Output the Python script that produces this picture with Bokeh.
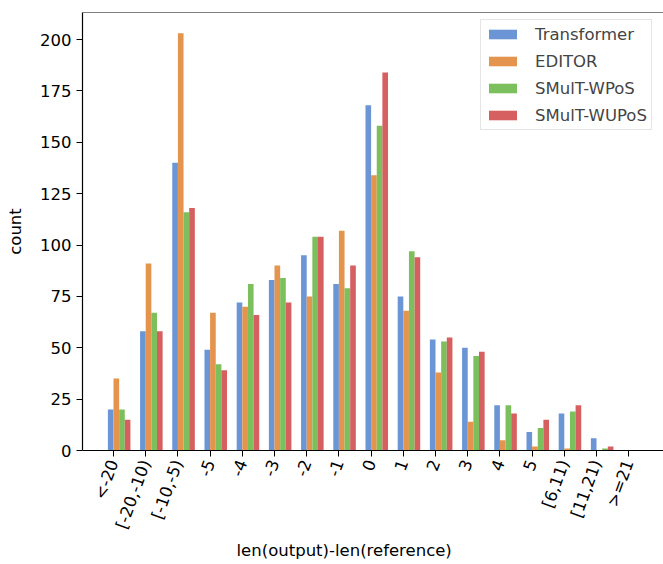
import math
import numpy as np
from bokeh.plotting import figure
from bokeh.models import ColumnDataSource, FixedTicker, Span, Legend, LegendItem, Title
from bokeh.embed import file_html
from bokeh.resources import INLINE

categories = ["<-20", "[-20,-10)", "[-10,-5)", "-5", "-4", "-3", "-2", "-1", "0",
              "1", "2", "3", "4", "5", "[6,11)", "[11,21)", ">=21"]
transformer = [20, 58, 140, 49, 72, 83, 95, 81, 168, 75, 54, 50, 22, 9, 18, 6, 0]
editor = [35, 91, 203, 67, 70, 90, 75, 107, 134, 68, 38, 14, 5, 2, 1, 0, 0]
smult_wpos = [20, 67, 116, 42, 81, 84, 104, 79, 158, 97, 53, 46, 22, 11, 19, 1, 0]
smult_wupos = [15, 58, 118, 39, 66, 72, 104, 90, 184, 94, 55, 48, 18, 15, 22, 2, 0]

series_names = ["Transformer", "EDITOR", "SMulT-WPoS", "SMulT-WUPoS"]
series_values = [transformer, editor, smult_wpos, smult_wupos]
colors = ["#6c95d6", "#e5944d", "#7cbf5d", "#d65f5f"]

FONT = "DejaVu Sans"
FS = "16.5px"
bar_w = 0.175
ymax = max(max(s) for s in series_values) * 1.05

p = figure(width=663, height=564, output_backend="svg", toolbar_location=None,
           x_range=(-0.963, 17.08), y_range=(0, ymax),
           min_border_left=82, min_border_right=0, min_border_top=12, min_border_bottom=114)
p.outline_line_color = None
p.grid.grid_line_color = None
p.background_fill_color = "white"
p.border_fill_color = "white"

idx = np.arange(len(categories))
items = []
for i, (name, vals, c) in enumerate(zip(series_names, series_values, colors)):
    src = ColumnDataSource(dict(x=idx + (i - 0.5) * bar_w, top=vals))
    r = p.vbar(x="x", top="top", width=bar_w, bottom=0, source=src,
               fill_color=c, line_color=None)
    items.append(LegendItem(label=name, renderers=[r]))

# top spine
p.add_layout(Span(location=ymax, dimension="width", line_color="black", line_width=1.2))

# x axis
p.xaxis.ticker = FixedTicker(ticks=list(range(len(categories))))
p.xaxis.major_label_overrides = {i: c for i, c in enumerate(categories)}
p.xaxis.major_label_orientation = math.radians(70)
p.xaxis.minor_tick_line_color = None
p.xaxis.major_tick_in = 0
p.xaxis.major_tick_out = 6
p.xaxis.major_label_standoff = 4
p.xaxis.major_label_text_font = FONT
p.xaxis.major_label_text_font_size = FS
p.xaxis.major_label_text_color = "black"
p.xaxis.axis_line_color = "black"
p.xaxis.axis_line_width = 1.2

# y axis
p.yaxis.ticker = FixedTicker(ticks=[0, 25, 50, 75, 100, 125, 150, 175, 200])
p.yaxis.minor_tick_line_color = None
p.yaxis.major_tick_in = 0
p.yaxis.major_tick_out = 6
p.yaxis.major_label_standoff = 5
p.yaxis.major_label_text_font = FONT
p.yaxis.major_label_text_font_size = FS
p.yaxis.major_label_text_color = "black"
p.yaxis.axis_label = "count"
p.yaxis.axis_label_text_font = FONT
p.yaxis.axis_label_text_font_size = FS
p.yaxis.axis_label_text_font_style = "normal"
p.yaxis.axis_label_text_color = "black"
p.yaxis.axis_label_standoff = 12
p.yaxis.axis_line_color = "black"
p.yaxis.axis_line_width = 1.2

xt = Title(text="len(output)-len(reference)", align="left", offset=154, standoff=2,
           text_font=FONT, text_font_size=FS, text_font_style="normal", text_color="black")
p.add_layout(xt, "below")

legend = Legend(items=items, location=(398, 320))
legend.label_text_font = FONT
legend.label_text_font_size = FS
legend.glyph_width = 35
legend.glyph_height = 12
legend.label_height = 20
legend.spacing = 7
legend.padding = 4
legend.margin = 0
legend.label_standoff = 15
legend.border_line_color = "#cccccc"
legend.border_line_width = 1
legend.background_fill_alpha = 0.8
p.add_layout(legend, "center")

open("out.html", "w").write(file_html(p, INLINE))
